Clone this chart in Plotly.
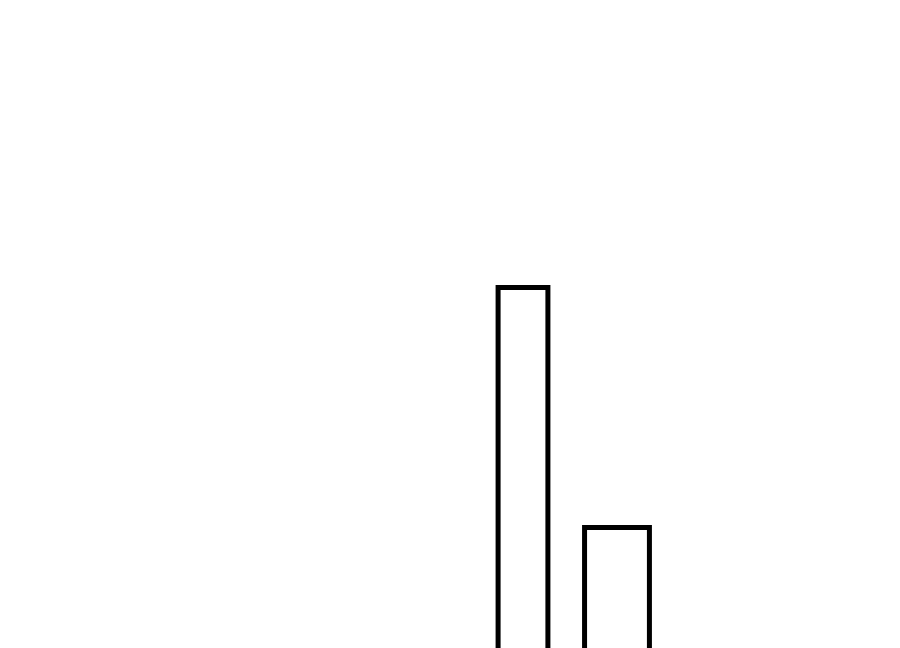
import plotly.graph_objects as go

# two bars, cut off by the bottom edge of the frame
categories = ["A", "B"]
values = [10, 7]
bar_widths = [0.53, 0.69]

fig = go.Figure(
  go.Bar(
    x=categories,
    y=values,
    width=bar_widths,
    marker=dict(color="white", line=dict(color="black", width=5)),
  )
)

# ranges allow for the 8px page margin round the plot
fig.update_layout(
  width=900,
  height=648,
  margin=dict(l=0, r=0, t=0, b=0),
  paper_bgcolor="white",
  plot_bgcolor="white",
  showlegend=False,
  xaxis=dict(visible=False, range=[-5.479, 4.096]),
  yaxis=dict(visible=False, range=[5.394, 13.494]),
)

fig.write_html("out.html")
